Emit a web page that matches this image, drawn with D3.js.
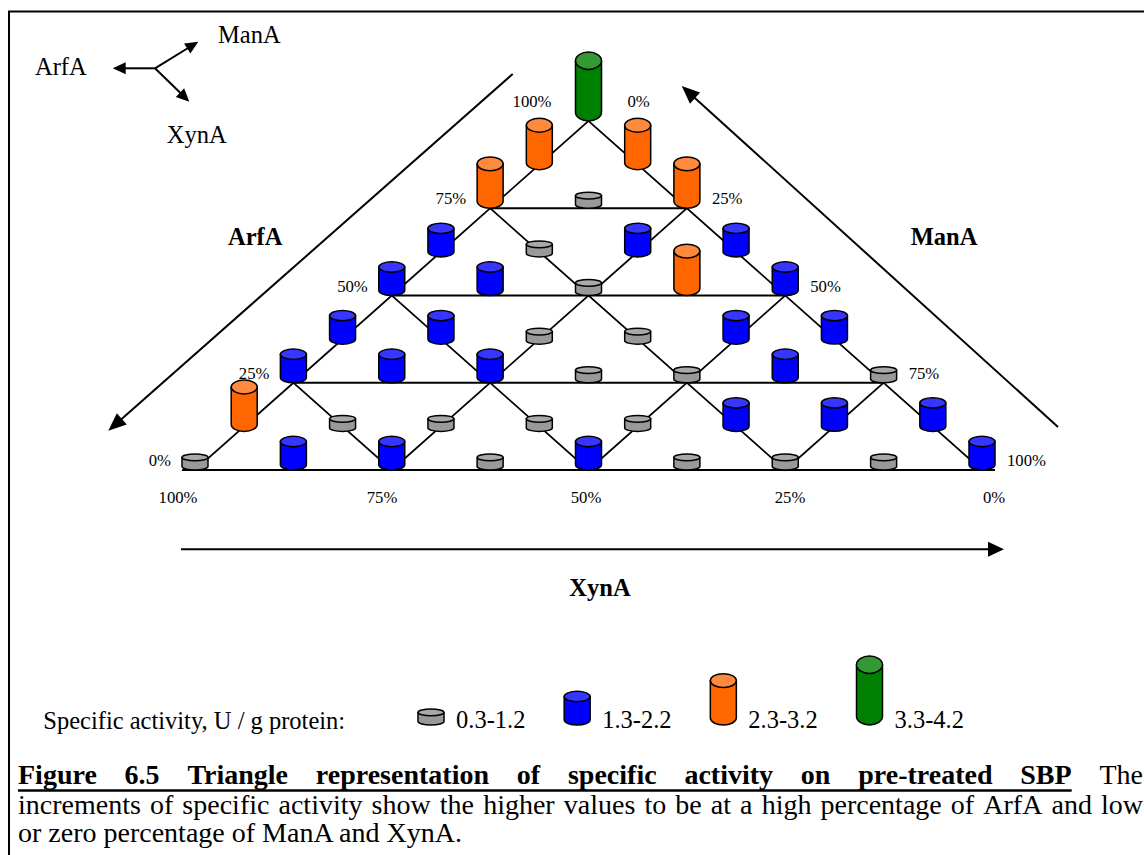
<!DOCTYPE html>
<html>
<head>
<meta charset="utf-8">
<script src="https://cdn.jsdelivr.net/npm/d3@7"></script>
<style>
  body { margin: 0; background: #fff; }
  svg { display: block; }
  text { font-family: "Liberation Serif", "Times New Roman", serif; fill: #000; }
</style>
</head>
<body>
<svg id="chart" width="1144" height="855" font-family="Liberation Serif, Times New Roman, serif"></svg>
<script>
// Specific activity classes, U / g protein
const classLabels = ["0.3-1.2", "1.3-2.2", "2.3-3.2", "3.3-4.2"];
const classMid = [0.75, 1.75, 2.75, 3.75];
const classFill = ["#999999", "#0000ff", "#ff6600", "#008000"];
const classTopFill = ["#a9a9a9", "#3636ff", "#ff8a3c", "#339933"];

// Activity class of each mixture, one array per ArfA level
// (row0 = 0% ArfA ... row8 = 100% ArfA, 12.5% steps), listed with ManA rising left to right.
const row0 = [0, 1, 1, 0, 1, 0, 0, 0, 1];
const row1 = [2, 0, 0, 0, 0, 1, 1, 1];
const row2 = [1, 1, 1, 0, 0, 1, 0];
const row3 = [1, 1, 0, 0, 1, 1];
const row4 = [1, 1, 0, 2, 1];
const row5 = [1, 0, 1, 1];
const row6 = [2, 0, 2];
const row7 = [2, 2];
const row8 = [3];
const rows = [row0, row1, row2, row3, row4, row5, row6, row7, row8];

// Grid lines every 25%, edge ticks
const gridSteps = [0, 0.25, 0.5, 0.75];
const edgeTicks = [0, 0.25, 0.5, 0.75, 1];

const captionBold = "Figure 6.5 Triangle representation of specific activity on pre-treated SBP";
const captionLine1Rest = "The";
const captionLine2 = "increments of specific activity show the higher values to be at a high percentage of ArfA and low";
const captionLine3 = "or zero percentage of ManA and XynA.";

const svg = d3.select("#chart");
const pct = d3.format(".0%");
const BIG = 24.5, SMALL = 16.7, CAP = 28;

// Ternary projection: a = ArfA fraction, m = ManA fraction (XynA = 1 - a - m)
const xs = d3.scaleLinear().domain([0, 1]).range([195, 982]);
const ys = d3.scaleLinear().domain([0, 1]).range([470, 121]);
const proj = (a, m) => [xs(m + a / 2), ys(a)];

// Cylinder height follows the class mid value
const hScale = d3.scaleLinear().domain([0.75, 3.75]).range([16, 69]);
const RX = 13;

function cylinder(g, cx, yb, cls) {
  const h = hScale(classMid[cls]);
  const ry = 0.1 * h + 1.8;
  const topC = yb - h + ry, botC = yb - ry;
  const c = g.append("g");
  c.append("path")
    .attr("d", `M${cx - RX},${topC}L${cx - RX},${botC}A${RX},${ry} 0 0 0 ${cx + RX},${botC}L${cx + RX},${topC}Z`)
    .attr("fill", classFill[cls]).attr("stroke", "#000").attr("stroke-width", 1.5)
    .attr("stroke-linejoin", "round");
  c.append("ellipse")
    .attr("cx", cx).attr("cy", topC).attr("rx", RX).attr("ry", ry)
    .attr("fill", classTopFill[cls]).attr("stroke", "#000").attr("stroke-width", 1.5);
}

function arrow(g, x1, y1, x2, y2, len, wid, sw) {
  const ang = Math.atan2(y2 - y1, x2 - x1);
  const bx = x2 - len * Math.cos(ang), by = y2 - len * Math.sin(ang);
  g.append("line").attr("x1", x1).attr("y1", y1).attr("x2", bx + Math.cos(ang)).attr("y2", by + Math.sin(ang))
    .attr("stroke", "#000").attr("stroke-width", sw);
  const px = -Math.sin(ang) * wid / 2, py = Math.cos(ang) * wid / 2;
  g.append("path").attr("d", `M${x2},${y2}L${bx + px},${by + py}L${bx - px},${by - py}Z`).attr("fill", "#000");
}

// Frame
svg.append("rect").attr("x", 9).attr("y", 11.5).attr("width", 1200).attr("height", 900)
  .attr("fill", "none").attr("stroke", "#000").attr("stroke-width", 2);

// Orientation key
const key = svg.append("g");
arrow(key, 155, 68.3, 112.7, 68.3, 13, 12, 2);
arrow(key, 155, 68.3, 198.3, 41.7, 13, 12, 2);
arrow(key, 155, 68.3, 189.3, 101.7, 13, 12, 2);
key.append("text").attr("x", 35).attr("y", 75).attr("font-size", BIG).text("ArfA");
key.append("text").attr("x", 218).attr("y", 43).attr("font-size", BIG).text("ManA");
key.append("text").attr("x", 166.7).attr("y", 143).attr("font-size", BIG).text("XynA");

// Direction arrows along the sides
const dirs = svg.append("g");
arrow(dirs, 512.7, 74, 108.3, 430.7, 18, 15, 2);
arrow(dirs, 1058, 427, 681.7, 86, 18, 15, 2);
arrow(dirs, 181, 549.3, 1004, 549.3, 16, 15, 2);
dirs.append("text").attr("x", 228).attr("y", 245).attr("font-size", BIG).attr("font-weight", "bold").text("ArfA");
dirs.append("text").attr("x", 910.7).attr("y", 245).attr("font-size", BIG).attr("font-weight", "bold").text("ManA");
dirs.append("text").attr("x", 600).attr("y", 596).attr("text-anchor", "middle").attr("font-size", BIG).attr("font-weight", "bold").text("XynA");

// Grid: lines of constant ArfA, ManA and XynA
const segs = [];
gridSteps.forEach(t => {
  segs.push([[t, 0], [t, 1 - t]]);
  segs.push([[0, t], [1 - t, t]]);
  segs.push([[0, 1 - t], [1 - t, 0]]);
});
const grid = svg.append("g");
grid.selectAll("line").data(segs).join("line")
  .attr("x1", d => proj(...d[0])[0]).attr("y1", d => proj(...d[0])[1])
  .attr("x2", d => proj(...d[1])[0]).attr("y2", d => proj(...d[1])[1])
  .attr("stroke", "#000").attr("stroke-width", 1.8).attr("stroke-linecap", "square");
// base runs out to the outer edges of the corner cylinders
grid.append("line")
  .attr("x1", proj(0, 0)[0] - RX).attr("x2", proj(0, 1)[0] + RX)
  .attr("y1", proj(0, 0)[1]).attr("y2", proj(0, 0)[1])
  .attr("stroke", "#000").attr("stroke-width", 2);

// Edge tick labels
const ticks = svg.append("g");
edgeTicks.forEach(a => {
  const apex = a === 1;
  const [lx, ly] = proj(a, 0);
  ticks.append("text").attr("x", lx - (apex ? 37 : 24)).attr("y", ly - (apex ? 14 : 4))
    .attr("text-anchor", "end").attr("font-size", SMALL).text(pct(a));
  const [rx, ry] = proj(a, 1 - a);
  ticks.append("text").attr("x", rx + (apex ? 39 : 25)).attr("y", ry - (apex ? 14 : 4))
    .attr("font-size", SMALL).text(pct(1 - a));
});
const xynaLabelX = d3.scaleLinear().domain([1, 0]).range([178, 994]);
edgeTicks.forEach(x => {
  ticks.append("text").attr("x", xynaLabelX(x)).attr("y", 503)
    .attr("text-anchor", "middle").attr("font-size", SMALL).text(pct(x));
});

// Cylinders at every 12.5% mixture, back rows first;
// the in-between rows sit a little below their grid height
const pts = [];
rows.forEach((row, r) => row.forEach((cls, k) => pts.push({ r, a: r / 8, m: k / 8, cls })));
const cyl = svg.append("g");
pts.slice().sort((p, q) => q.a - p.a).forEach(p => {
  const [x, y] = proj(p.a, p.m);
  cylinder(cyl, x, y + (p.r % 2 ? 5 : 0), p.cls);
});

// Legend
const leg = svg.append("g");
leg.append("text").attr("x", 43.3).attr("y", 729).attr("font-size", BIG).text("Specific activity, U / g protein:");
const legX = d3.scaleLinear().domain([0, classLabels.length - 1]).range([431, 869.5]);
classLabels.forEach((lab, i) => {
  cylinder(leg, legX(i), 725, i);
  leg.append("text").attr("x", legX(i) + 25).attr("y", 728).attr("font-size", BIG).text(lab);
});

// Caption, justified between the margins
const LEFT = 18, RIGHT = 1143;
const cap = svg.append("g").attr("font-size", CAP);
function measure(word, bold) {
  const t = cap.append("text").attr("font-size", CAP).attr("font-weight", bold ? "bold" : "normal").text(word);
  const w = t.node().getComputedTextLength();
  t.remove();
  return w;
}
function justifyLine(words, y) {
  const widths = words.map(w => measure(w.t, w.b));
  const total = d3.sum(widths);
  const gap = (RIGHT - LEFT - total) / (words.length - 1);
  let x = LEFT;
  const pos = [];
  words.forEach((w, i) => {
    cap.append("text").attr("x", x).attr("y", y).attr("font-size", CAP)
      .attr("font-weight", w.b ? "bold" : "normal").text(w.t);
    pos.push([x, x + widths[i]]);
    x += widths[i] + gap;
  });
  return pos;
}
const line1 = captionBold.split(" ").map(t => ({ t, b: true }))
  .concat(captionLine1Rest.split(" ").map(t => ({ t, b: false })));
const p1 = justifyLine(line1, 784);
const nBold = captionBold.split(" ").length;
cap.append("line").attr("x1", LEFT).attr("x2", p1[nBold - 1][1]).attr("y1", 790.5).attr("y2", 790.5)
  .attr("stroke", "#000").attr("stroke-width", 2.6);
justifyLine(captionLine2.split(" ").map(t => ({ t, b: false })), 814);
cap.append("text").attr("x", LEFT).attr("y", 842).attr("font-size", CAP).text(captionLine3);
</script>
</body>
</html>
